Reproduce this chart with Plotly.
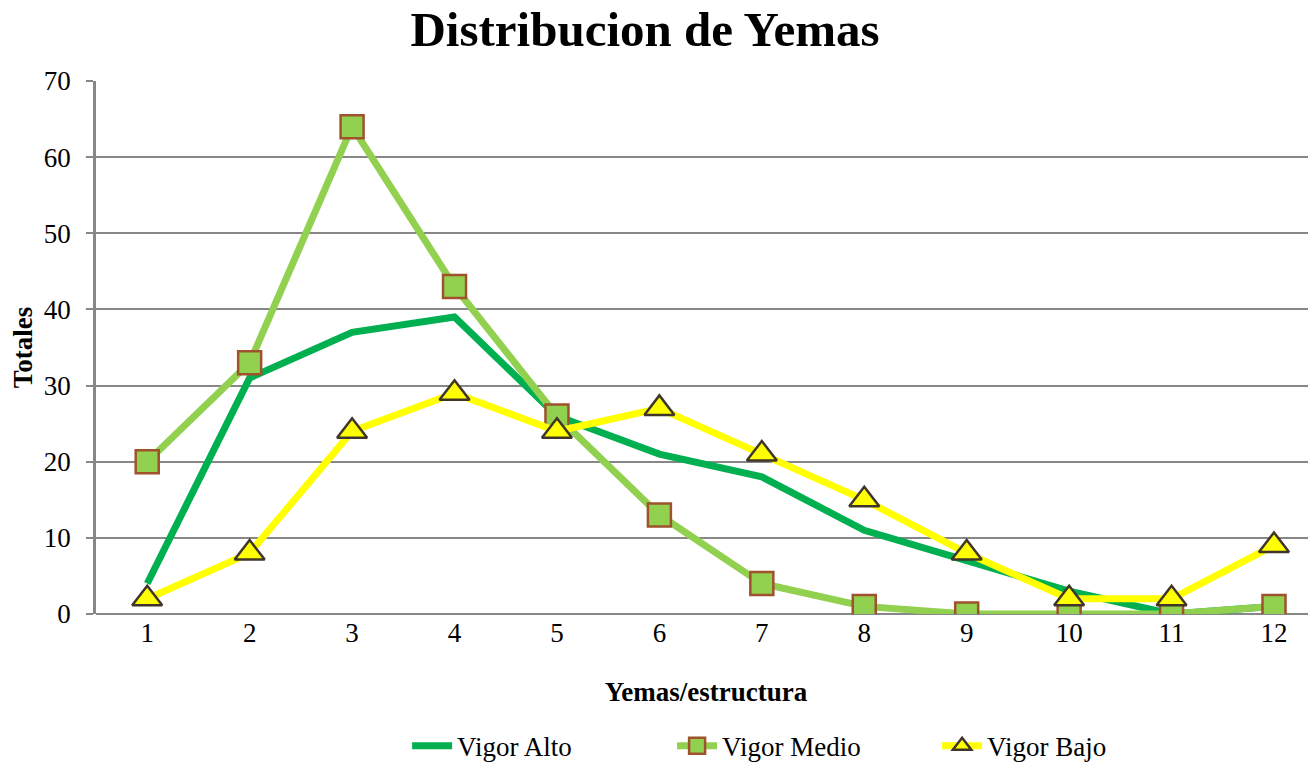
import plotly.graph_objects as go

# Datos
categorias = [1, 2, 3, 4, 5, 6, 7, 8, 9, 10, 11, 12]
vigor_alto = [4, 31, 37, 39, 26, 21, 18, 11, 7, 3, 0, 1]
vigor_medio = [20, 33, 64, 43, 26, 13, 4, 1, 0, 0, 0, 1]
vigor_bajo = [2, 8, 24, 29, 24, 27, 21, 15, 8, 2, 2, 9]

FONT = "Liberation Serif"
GRID = "#878787"

fig = go.Figure()

fig.add_trace(go.Scatter(
    x=categorias, y=vigor_alto, name="Vigor Alto", mode="lines",
    line=dict(color="#00B050", width=7),
))
fig.add_trace(go.Scatter(
    x=categorias, y=vigor_medio, name="Vigor Medio", mode="lines+markers",
    line=dict(color="#92D050", width=7),
    marker=dict(symbol="square", size=23, color="#92D050",
                line=dict(color="#A0522D", width=2.5)),
))
fig.add_trace(go.Scatter(
    x=categorias, y=vigor_bajo, name="Vigor Bajo", mode="lines+markers",
    line=dict(color="#FFFF00", width=7),
    marker=dict(symbol="triangle-up", size=26, color="#FFFF00",
                line=dict(color="#40352A", width=2.5)),
))

# la pagina tiene 8px de margen en el body -> figura desplazada 8px
fig.update_layout(
    width=1308, height=764,
    paper_bgcolor="white", plot_bgcolor="white",
    margin=dict(l=88, r=0, t=73, b=158),
    font=dict(family=FONT, color="black", size=27),
    title=dict(text="<b>Distribucion de Yemas</b>", x=0.487, xanchor="center",
               y=1 - 21 / 764, yanchor="middle", font=dict(size=49, family=FONT)),
    showlegend=True,
    legend=dict(orientation="h", x=0.255, xanchor="left", y=-0.248, yanchor="middle",
                font=dict(size=27, family=FONT), itemwidth=40,
                entrywidth=210, entrywidthmode="pixels",
                traceorder="normal"),
    xaxis=dict(
        range=[0.5, 12.41], tickmode="array", tickvals=categorias,
        ticktext=[str(c) for c in categorias],
        showgrid=False, zeroline=False, showline=False,
        ticks="", ticklen=0, automargin=False,
        tickfont=dict(size=27, family=FONT),
        title=dict(text="<b>Yemas/estructura</b>", font=dict(size=27, family=FONT), standoff=35),
    ),
    yaxis=dict(
        range=[0, 70], dtick=10, showgrid=True, gridcolor=GRID, gridwidth=2,
        zeroline=True, zerolinecolor=GRID, zerolinewidth=2,
        showline=True, linecolor=GRID, linewidth=2.5,
        ticks="outside", ticklen=7, tickcolor=GRID, tickwidth=2,
        ticklabelstandoff=10, automargin=False,
        tickfont=dict(size=27, family=FONT),
        title=dict(text="<b>Totales</b>", font=dict(size=27, family=FONT), standoff=16),
    ),
)

fig.write_html("out.html")
